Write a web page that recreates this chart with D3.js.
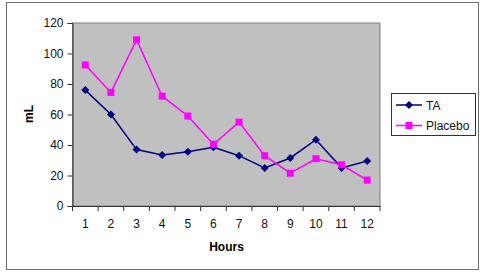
<!DOCTYPE html>
<html><head><meta charset="utf-8">
<script src="https://cdn.jsdelivr.net/npm/d3@7/dist/d3.min.js"></script>
<style>body{margin:0;background:#fff}svg{display:block}text{font-family:Arial,"Liberation Sans",sans-serif}</style>
</head><body><svg id="c" width="484" height="272"></svg>
<script>
const hours = ["1","2","3","4","5","6","7","8","9","10","11","12"];
const taValues = [76, 60, 37, 33.5, 35.5, 38.5, 33, 25, 31.5, 43.5, 25, 29.5];
const placeboValues = [92.5, 74.5, 109, 72, 59, 40.5, 55, 33, 21.5, 31, 27, 17];
const yTicks = [0, 20, 40, 60, 80, 100, 120];
const seriesNames = ["TA", "Placebo"];
const seriesColors = ["#000080", "#ff00ff"];

const svg = d3.select("#c");
svg.append("rect").attr("x",6.5).attr("y",2.5).attr("width",472).attr("height",267)
  .attr("fill","#fff").attr("stroke","#6e6e6e").attr("stroke-width",1);

const L=72.5, R=380, T=23, B=206;
const x = d3.scaleBand().domain(hours).range([L,R]);
const y = d3.scaleLinear().domain([0,120]).range([B,T]);

svg.append("rect").attr("x",L).attr("y",T).attr("width",R-L).attr("height",B-T)
  .attr("fill","#c0c0c0").attr("stroke","#808080").attr("stroke-width",1);

const yAxis = svg.append("g").attr("transform",`translate(${L},0)`)
  .call(d3.axisLeft(y).tickValues(yTicks).tickSize(5).tickPadding(4));
yAxis.select(".domain").attr("stroke","#333");
yAxis.selectAll(".tick line").attr("stroke","#333");
yAxis.selectAll("text").attr("font-size",12).attr("fill","#111");

const xAxis = svg.append("g").attr("transform",`translate(0,${B})`)
  .call(d3.axisBottom(x).tickSize(0).tickPadding(13));
xAxis.select(".domain").attr("stroke","#333");
xAxis.selectAll("text").attr("font-size",12).attr("fill","#111");
// tick marks at band boundaries
const bounds = hours.map(h=>x(h)).concat([R]);
svg.append("g").selectAll("line").data(bounds).join("line")
  .attr("x1",d=>d).attr("x2",d=>d).attr("y1",B).attr("y2",B+5).attr("stroke","#333");

svg.append("text").attr("x",226.5).attr("y",251).attr("text-anchor","middle")
  .attr("font-size",12).attr("font-weight","bold").text("Hours");
svg.append("text").attr("transform","translate(33,114) rotate(-90)").attr("text-anchor","middle")
  .attr("font-size",12).attr("font-weight","bold").text("mL");

const cx = h => x(h)+x.bandwidth()/2;
const line = d3.line().x((d,i)=>cx(hours[i])).y(d=>y(d));
const allSeries = [taValues, placeboValues];
allSeries.forEach((vals,si)=>{
  svg.append("path").attr("d",line(vals)).attr("fill","none")
    .attr("stroke",seriesColors[si]).attr("stroke-width",1.5);
});
function marker(g, si, px, py){
  if(si===0){
    g.append("path").attr("d",`M${px},${py-4}L${px+4},${py}L${px},${py+4}L${px-4},${py}Z`).attr("fill",seriesColors[si]);
  } else {
    g.append("rect").attr("x",px-3.5).attr("y",py-3.5).attr("width",7).attr("height",7).attr("fill",seriesColors[si]);
  }
}
allSeries.forEach((vals,si)=>{
  const g = svg.append("g");
  vals.forEach((v,i)=>marker(g,si,cx(hours[i]),y(v)));
});

// legend
const lg = svg.append("g");
lg.append("rect").attr("x",391.5).attr("y",93.5).attr("width",84).attr("height",42)
  .attr("fill","#fff").attr("stroke","#333");
seriesNames.forEach((n,i)=>{
  const ly = 105 + i*20.5;
  lg.append("line").attr("x1",396).attr("x2",422).attr("y1",ly).attr("y2",ly)
    .attr("stroke",seriesColors[i]).attr("stroke-width",1.5);
  marker(lg,i,409,ly);
  lg.append("text").attr("x",426).attr("y",ly+4.5).attr("font-size",12).attr("fill","#111").text(n);
});
</script></body></html>
